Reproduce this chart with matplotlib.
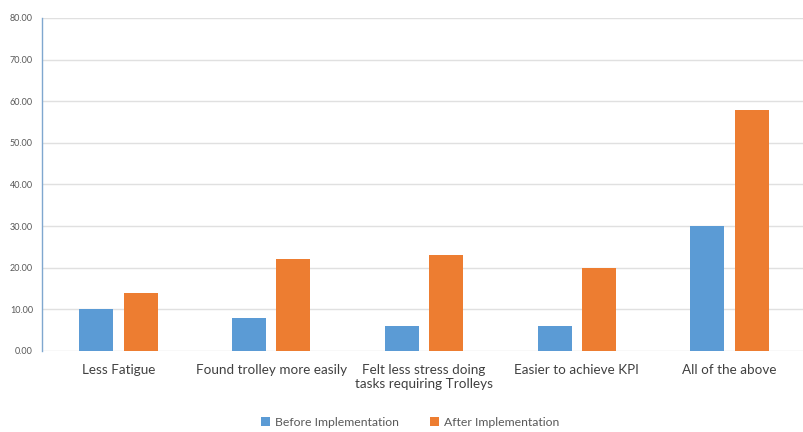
import matplotlib
matplotlib.use("Agg")
from matplotlib import pyplot as plt
import numpy as np

categories = ["Less Fatigue", "Found trolley more easily",
              "Felt less stress doing\ntasks requiring Trolleys",
              "Easier to achieve KPI", "All of the above"]
before = [10, 8, 6, 6, 30]
after = [14, 22, 23, 20, 58]
yticks = [0, 10, 20, 30, 40, 50, 60, 70, 80]

plt.rcParams['font.family'] = ['Lato', 'DejaVu Sans']

fig = plt.figure(figsize=(8.04, 4.32), dpi=100)
ax = fig.add_axes([42/804, 81/432, 764/804, 333/432])

x = np.arange(len(categories))
w = 0.222
ax.bar(x - 0.145, before, w, color="#5b9bd5", label="Before Implementation", zorder=3)
ax.bar(x + 0.145, after, w, color="#ed7d31", label="After Implementation", zorder=3)

ax.set_xlim(-0.5, len(categories) - 0.5)
ax.set_ylim(0, 80)
ax.set_yticks(yticks)
ax.set_yticklabels([f"{v:.2f}" for v in yticks], fontsize=6.5, color="#595959")
ax.set_xticks(x)
ax.set_xticklabels(categories, fontsize=9.7, color="#404040", linespacing=1.2)
ax.tick_params(axis="y", length=0, pad=6.5)
ax.tick_params(axis="x", length=0, pad=9)
ax.grid(axis="y", color="#e0e0e0", linewidth=1, zorder=0)

for s in ["top", "right", "bottom"]:
    ax.spines[s].set_visible(False)
ax.spines["left"].set_color("#7fa7cf")
ax.spines["left"].set_linewidth(1)

fig.legend(loc="center", bbox_to_anchor=(410/804, 10/432), ncol=2, frameon=False,
           fontsize=8.8, handlelength=0.7, handleheight=0.7, columnspacing=2.6,
           handletextpad=0.4, labelcolor="#595959")

fig.savefig("out.png", dpi=100)
